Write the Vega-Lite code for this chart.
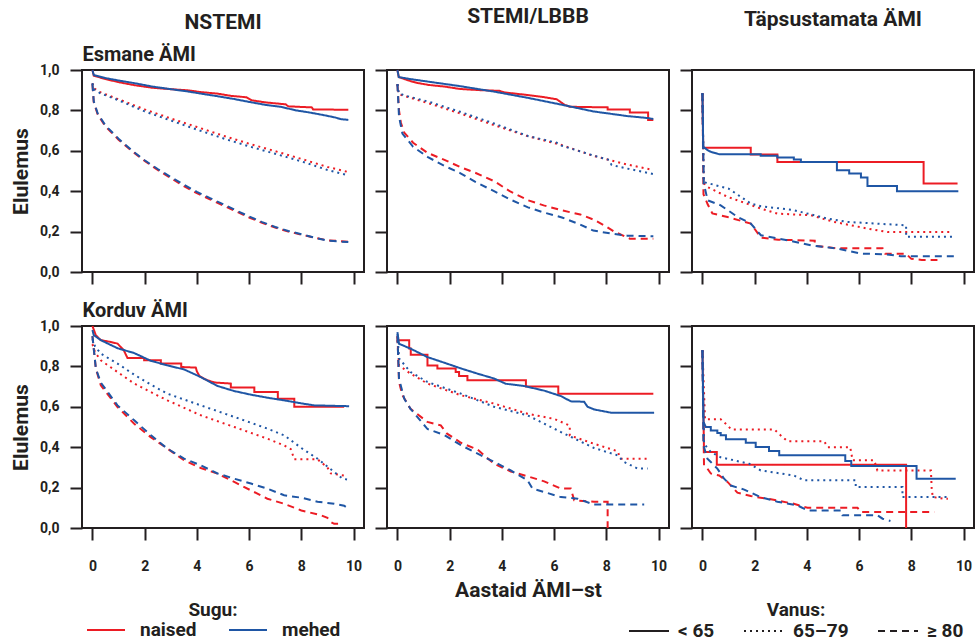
{
"$schema": "https://vega.github.io/schema/vega-lite/v6.json",
"background": "white",
"padding": {"left": 9, "top": 5, "right": 2, "bottom": 2},
"datasets": {
"EN": [
{"sugu":"naised","vanus":"< 65","t":0,"s":1},{"sugu":"naised","vanus":"< 65","t":0.05,"s":0.972},{"sugu":"naised","vanus":"< 65","t":0.5,"s":0.955},{"sugu":"naised","vanus":"< 65","t":1,"s":0.94},{"sugu":"naised","vanus":"< 65","t":1.6,"s":0.925},{"sugu":"naised","vanus":"< 65","t":2.3,"s":0.912},{"sugu":"naised","vanus":"< 65","t":3,"s":0.905},{"sugu":"naised","vanus":"< 65","t":3.6,"s":0.9},{"sugu":"naised","vanus":"< 65","t":4.2,"s":0.89},{"sugu":"naised","vanus":"< 65","t":4.8,"s":0.883},{"sugu":"naised","vanus":"< 65","t":5.3,"s":0.872},{"sugu":"naised","vanus":"< 65","t":5.9,"s":0.865},{"sugu":"naised","vanus":"< 65","t":6.1,"s":0.85},{"sugu":"naised","vanus":"< 65","t":6.6,"s":0.84},{"sugu":"naised","vanus":"< 65","t":7.4,"s":0.83},{"sugu":"naised","vanus":"< 65","t":7.5,"s":0.82},{"sugu":"naised","vanus":"< 65","t":8.4,"s":0.815},{"sugu":"naised","vanus":"< 65","t":8.45,"s":0.805},{"sugu":"naised","vanus":"< 65","t":9.8,"s":0.803},
{"sugu":"mehed","vanus":"< 65","t":0,"s":1},{"sugu":"mehed","vanus":"< 65","t":0.05,"s":0.975},{"sugu":"mehed","vanus":"< 65","t":0.5,"s":0.96},{"sugu":"mehed","vanus":"< 65","t":1,"s":0.948},{"sugu":"mehed","vanus":"< 65","t":1.6,"s":0.935},{"sugu":"mehed","vanus":"< 65","t":2.3,"s":0.918},{"sugu":"mehed","vanus":"< 65","t":3,"s":0.905},{"sugu":"mehed","vanus":"< 65","t":3.6,"s":0.895},{"sugu":"mehed","vanus":"< 65","t":4.2,"s":0.882},{"sugu":"mehed","vanus":"< 65","t":4.8,"s":0.87},{"sugu":"mehed","vanus":"< 65","t":5.4,"s":0.857},{"sugu":"mehed","vanus":"< 65","t":6,"s":0.842},{"sugu":"mehed","vanus":"< 65","t":6.6,"s":0.828},{"sugu":"mehed","vanus":"< 65","t":7.2,"s":0.818},{"sugu":"mehed","vanus":"< 65","t":7.8,"s":0.8},{"sugu":"mehed","vanus":"< 65","t":8.3,"s":0.79},{"sugu":"mehed","vanus":"< 65","t":8.8,"s":0.778},{"sugu":"mehed","vanus":"< 65","t":9.3,"s":0.765},{"sugu":"mehed","vanus":"< 65","t":9.5,"s":0.757},{"sugu":"mehed","vanus":"< 65","t":9.8,"s":0.753},
{"sugu":"naised","vanus":"65–79","t":0,"s":0.935},{"sugu":"naised","vanus":"65–79","t":0.05,"s":0.91},{"sugu":"naised","vanus":"65–79","t":0.3,"s":0.89},{"sugu":"naised","vanus":"65–79","t":1,"s":0.855},{"sugu":"naised","vanus":"65–79","t":2,"s":0.805},{"sugu":"naised","vanus":"65–79","t":3,"s":0.76},{"sugu":"naised","vanus":"65–79","t":4,"s":0.718},{"sugu":"naised","vanus":"65–79","t":5,"s":0.675},{"sugu":"naised","vanus":"65–79","t":6,"s":0.635},{"sugu":"naised","vanus":"65–79","t":7,"s":0.598},{"sugu":"naised","vanus":"65–79","t":8,"s":0.56},{"sugu":"naised","vanus":"65–79","t":9,"s":0.52},{"sugu":"naised","vanus":"65–79","t":9.8,"s":0.495},
{"sugu":"mehed","vanus":"65–79","t":0,"s":0.935},{"sugu":"mehed","vanus":"65–79","t":0.05,"s":0.905},{"sugu":"mehed","vanus":"65–79","t":0.3,"s":0.885},{"sugu":"mehed","vanus":"65–79","t":1,"s":0.85},{"sugu":"mehed","vanus":"65–79","t":2,"s":0.795},{"sugu":"mehed","vanus":"65–79","t":3,"s":0.75},{"sugu":"mehed","vanus":"65–79","t":4,"s":0.705},{"sugu":"mehed","vanus":"65–79","t":5,"s":0.662},{"sugu":"mehed","vanus":"65–79","t":6,"s":0.622},{"sugu":"mehed","vanus":"65–79","t":7,"s":0.585},{"sugu":"mehed","vanus":"65–79","t":8,"s":0.548},{"sugu":"mehed","vanus":"65–79","t":9,"s":0.505},{"sugu":"mehed","vanus":"65–79","t":9.8,"s":0.478},
{"sugu":"naised","vanus":"≥ 80","t":0,"s":0.93},{"sugu":"naised","vanus":"≥ 80","t":0.05,"s":0.84},{"sugu":"naised","vanus":"≥ 80","t":0.2,"s":0.78},{"sugu":"naised","vanus":"≥ 80","t":0.5,"s":0.72},{"sugu":"naised","vanus":"≥ 80","t":1,"s":0.655},{"sugu":"naised","vanus":"≥ 80","t":1.5,"s":0.6},{"sugu":"naised","vanus":"≥ 80","t":2,"s":0.55},{"sugu":"naised","vanus":"≥ 80","t":2.5,"s":0.505},{"sugu":"naised","vanus":"≥ 80","t":3,"s":0.465},{"sugu":"naised","vanus":"≥ 80","t":3.5,"s":0.425},{"sugu":"naised","vanus":"≥ 80","t":4,"s":0.39},{"sugu":"naised","vanus":"≥ 80","t":4.5,"s":0.36},{"sugu":"naised","vanus":"≥ 80","t":5,"s":0.33},{"sugu":"naised","vanus":"≥ 80","t":5.5,"s":0.3},{"sugu":"naised","vanus":"≥ 80","t":6,"s":0.27},{"sugu":"naised","vanus":"≥ 80","t":6.5,"s":0.243},{"sugu":"naised","vanus":"≥ 80","t":7,"s":0.22},{"sugu":"naised","vanus":"≥ 80","t":7.5,"s":0.2},{"sugu":"naised","vanus":"≥ 80","t":8,"s":0.185},{"sugu":"naised","vanus":"≥ 80","t":8.5,"s":0.17},{"sugu":"naised","vanus":"≥ 80","t":9,"s":0.157},{"sugu":"naised","vanus":"≥ 80","t":9.8,"s":0.15},
{"sugu":"mehed","vanus":"≥ 80","t":0,"s":0.93},{"sugu":"mehed","vanus":"≥ 80","t":0.05,"s":0.845},{"sugu":"mehed","vanus":"≥ 80","t":0.2,"s":0.785},{"sugu":"mehed","vanus":"≥ 80","t":0.5,"s":0.725},{"sugu":"mehed","vanus":"≥ 80","t":1,"s":0.66},{"sugu":"mehed","vanus":"≥ 80","t":1.5,"s":0.603},{"sugu":"mehed","vanus":"≥ 80","t":2,"s":0.553},{"sugu":"mehed","vanus":"≥ 80","t":2.5,"s":0.51},{"sugu":"mehed","vanus":"≥ 80","t":3,"s":0.47},{"sugu":"mehed","vanus":"≥ 80","t":3.5,"s":0.432},{"sugu":"mehed","vanus":"≥ 80","t":4,"s":0.397},{"sugu":"mehed","vanus":"≥ 80","t":4.5,"s":0.366},{"sugu":"mehed","vanus":"≥ 80","t":5,"s":0.336},{"sugu":"mehed","vanus":"≥ 80","t":5.5,"s":0.305},{"sugu":"mehed","vanus":"≥ 80","t":6,"s":0.275},{"sugu":"mehed","vanus":"≥ 80","t":6.5,"s":0.247},{"sugu":"mehed","vanus":"≥ 80","t":7,"s":0.223},{"sugu":"mehed","vanus":"≥ 80","t":7.5,"s":0.203},{"sugu":"mehed","vanus":"≥ 80","t":8,"s":0.187},{"sugu":"mehed","vanus":"≥ 80","t":8.5,"s":0.17},{"sugu":"mehed","vanus":"≥ 80","t":9,"s":0.155},{"sugu":"mehed","vanus":"≥ 80","t":9.8,"s":0.148}
],
"ES": [
{"sugu":"naised","vanus":"< 65","t":0,"s":1},{"sugu":"naised","vanus":"< 65","t":0.05,"s":0.965},{"sugu":"naised","vanus":"< 65","t":0.5,"s":0.945},{"sugu":"naised","vanus":"< 65","t":0.8,"s":0.935},{"sugu":"naised","vanus":"< 65","t":1.2,"s":0.926},{"sugu":"naised","vanus":"< 65","t":1.8,"s":0.918},{"sugu":"naised","vanus":"< 65","t":2.4,"s":0.906},{"sugu":"naised","vanus":"< 65","t":3.2,"s":0.9},{"sugu":"naised","vanus":"< 65","t":3.9,"s":0.897},{"sugu":"naised","vanus":"< 65","t":4.1,"s":0.889},{"sugu":"naised","vanus":"< 65","t":5,"s":0.876},{"sugu":"naised","vanus":"< 65","t":5.6,"s":0.866},{"sugu":"naised","vanus":"< 65","t":6.1,"s":0.855},{"sugu":"naised","vanus":"< 65","t":6.4,"s":0.828},{"sugu":"naised","vanus":"< 65","t":6.6,"s":0.818},{"sugu":"naised","vanus":"< 65","t":8.05,"s":0.815},{"sugu":"naised","vanus":"< 65","t":8.05,"s":0.805},{"sugu":"naised","vanus":"< 65","t":8.9,"s":0.805},{"sugu":"naised","vanus":"< 65","t":8.9,"s":0.79},{"sugu":"naised","vanus":"< 65","t":9.6,"s":0.79},{"sugu":"naised","vanus":"< 65","t":9.6,"s":0.752},{"sugu":"naised","vanus":"< 65","t":9.8,"s":0.752},
{"sugu":"mehed","vanus":"< 65","t":0,"s":1},{"sugu":"mehed","vanus":"< 65","t":0.05,"s":0.965},{"sugu":"mehed","vanus":"< 65","t":0.5,"s":0.955},{"sugu":"mehed","vanus":"< 65","t":1.2,"s":0.942},{"sugu":"mehed","vanus":"< 65","t":2.4,"s":0.92},{"sugu":"mehed","vanus":"< 65","t":3.7,"s":0.893},{"sugu":"mehed","vanus":"< 65","t":5,"s":0.862},{"sugu":"mehed","vanus":"< 65","t":6.3,"s":0.828},{"sugu":"mehed","vanus":"< 65","t":7.5,"s":0.795},{"sugu":"mehed","vanus":"< 65","t":8.8,"s":0.772},{"sugu":"mehed","vanus":"< 65","t":9.6,"s":0.762},{"sugu":"mehed","vanus":"< 65","t":9.8,"s":0.757},
{"sugu":"naised","vanus":"65–79","t":0,"s":0.93},{"sugu":"naised","vanus":"65–79","t":0.05,"s":0.88},{"sugu":"naised","vanus":"65–79","t":0.3,"s":0.87},{"sugu":"naised","vanus":"65–79","t":1.2,"s":0.835},{"sugu":"naised","vanus":"65–79","t":2.4,"s":0.785},{"sugu":"naised","vanus":"65–79","t":3.7,"s":0.727},{"sugu":"naised","vanus":"65–79","t":5,"s":0.672},{"sugu":"naised","vanus":"65–79","t":6.3,"s":0.628},{"sugu":"naised","vanus":"65–79","t":7.5,"s":0.575},{"sugu":"naised","vanus":"65–79","t":8.8,"s":0.532},{"sugu":"naised","vanus":"65–79","t":9.8,"s":0.505},
{"sugu":"mehed","vanus":"65–79","t":0,"s":0.93},{"sugu":"mehed","vanus":"65–79","t":0.05,"s":0.885},{"sugu":"mehed","vanus":"65–79","t":0.3,"s":0.873},{"sugu":"mehed","vanus":"65–79","t":1.2,"s":0.843},{"sugu":"mehed","vanus":"65–79","t":2.4,"s":0.793},{"sugu":"mehed","vanus":"65–79","t":3.7,"s":0.735},{"sugu":"mehed","vanus":"65–79","t":5,"s":0.673},{"sugu":"mehed","vanus":"65–79","t":6.1,"s":0.64},{"sugu":"mehed","vanus":"65–79","t":6.3,"s":0.625},{"sugu":"mehed","vanus":"65–79","t":7.5,"s":0.577},{"sugu":"mehed","vanus":"65–79","t":8.1,"s":0.555},{"sugu":"mehed","vanus":"65–79","t":8.2,"s":0.53},{"sugu":"mehed","vanus":"65–79","t":8.8,"s":0.512},{"sugu":"mehed","vanus":"65–79","t":9.8,"s":0.485},
{"sugu":"naised","vanus":"≥ 80","t":0,"s":0.93},{"sugu":"naised","vanus":"≥ 80","t":0.06,"s":0.8},{"sugu":"naised","vanus":"≥ 80","t":0.13,"s":0.74},{"sugu":"naised","vanus":"≥ 80","t":0.26,"s":0.69},{"sugu":"naised","vanus":"≥ 80","t":0.6,"s":0.64},{"sugu":"naised","vanus":"≥ 80","t":1.15,"s":0.59},{"sugu":"naised","vanus":"≥ 80","t":1.8,"s":0.555},{"sugu":"naised","vanus":"≥ 80","t":2.4,"s":0.52},{"sugu":"naised","vanus":"≥ 80","t":3,"s":0.49},{"sugu":"naised","vanus":"≥ 80","t":3.7,"s":0.45},{"sugu":"naised","vanus":"≥ 80","t":4.3,"s":0.4},{"sugu":"naised","vanus":"≥ 80","t":5,"s":0.355},{"sugu":"naised","vanus":"≥ 80","t":5.6,"s":0.33},{"sugu":"naised","vanus":"≥ 80","t":6.3,"s":0.305},{"sugu":"naised","vanus":"≥ 80","t":7,"s":0.285},{"sugu":"naised","vanus":"≥ 80","t":7.5,"s":0.26},{"sugu":"naised","vanus":"≥ 80","t":8,"s":0.225},{"sugu":"naised","vanus":"≥ 80","t":8.3,"s":0.2},{"sugu":"naised","vanus":"≥ 80","t":8.9,"s":0.165},{"sugu":"naised","vanus":"≥ 80","t":9.8,"s":0.165},
{"sugu":"mehed","vanus":"≥ 80","t":0,"s":0.93},{"sugu":"mehed","vanus":"≥ 80","t":0.06,"s":0.77},{"sugu":"mehed","vanus":"≥ 80","t":0.19,"s":0.685},{"sugu":"mehed","vanus":"≥ 80","t":0.6,"s":0.62},{"sugu":"mehed","vanus":"≥ 80","t":1.15,"s":0.57},{"sugu":"mehed","vanus":"≥ 80","t":1.8,"s":0.525},{"sugu":"mehed","vanus":"≥ 80","t":2.4,"s":0.49},{"sugu":"mehed","vanus":"≥ 80","t":3,"s":0.445},{"sugu":"mehed","vanus":"≥ 80","t":3.7,"s":0.4},{"sugu":"mehed","vanus":"≥ 80","t":4.3,"s":0.36},{"sugu":"mehed","vanus":"≥ 80","t":5,"s":0.32},{"sugu":"mehed","vanus":"≥ 80","t":5.6,"s":0.295},{"sugu":"mehed","vanus":"≥ 80","t":6.3,"s":0.27},{"sugu":"mehed","vanus":"≥ 80","t":7,"s":0.235},{"sugu":"mehed","vanus":"≥ 80","t":7.5,"s":0.205},{"sugu":"mehed","vanus":"≥ 80","t":8.2,"s":0.19},{"sugu":"mehed","vanus":"≥ 80","t":8.8,"s":0.18},{"sugu":"mehed","vanus":"≥ 80","t":9.8,"s":0.177}
],
"ET": [
{"sugu":"naised","vanus":"< 65","t":0,"s":0.885},{"sugu":"naised","vanus":"< 65","t":0.03,"s":0.615},{"sugu":"naised","vanus":"< 65","t":1.85,"s":0.615},{"sugu":"naised","vanus":"< 65","t":1.85,"s":0.582},{"sugu":"naised","vanus":"< 65","t":2.87,"s":0.582},{"sugu":"naised","vanus":"< 65","t":2.87,"s":0.545},{"sugu":"naised","vanus":"< 65","t":8.47,"s":0.545},{"sugu":"naised","vanus":"< 65","t":8.47,"s":0.438},{"sugu":"naised","vanus":"< 65","t":9.77,"s":0.438},
{"sugu":"mehed","vanus":"< 65","t":0,"s":0.885},{"sugu":"mehed","vanus":"< 65","t":0.03,"s":0.62},{"sugu":"mehed","vanus":"< 65","t":0.2,"s":0.603},{"sugu":"mehed","vanus":"< 65","t":0.32,"s":0.595},{"sugu":"mehed","vanus":"< 65","t":0.64,"s":0.583},{"sugu":"mehed","vanus":"< 65","t":2.23,"s":0.583},{"sugu":"mehed","vanus":"< 65","t":2.23,"s":0.575},{"sugu":"mehed","vanus":"< 65","t":2.87,"s":0.575},{"sugu":"mehed","vanus":"< 65","t":2.87,"s":0.567},{"sugu":"mehed","vanus":"< 65","t":3.5,"s":0.567},{"sugu":"mehed","vanus":"< 65","t":3.5,"s":0.557},{"sugu":"mehed","vanus":"< 65","t":3.77,"s":0.557},{"sugu":"mehed","vanus":"< 65","t":3.77,"s":0.545},{"sugu":"mehed","vanus":"< 65","t":5.15,"s":0.545},{"sugu":"mehed","vanus":"< 65","t":5.15,"s":0.504},{"sugu":"mehed","vanus":"< 65","t":5.62,"s":0.504},{"sugu":"mehed","vanus":"< 65","t":5.62,"s":0.488},{"sugu":"mehed","vanus":"< 65","t":6.07,"s":0.488},{"sugu":"mehed","vanus":"< 65","t":6.07,"s":0.468},{"sugu":"mehed","vanus":"< 65","t":6.32,"s":0.468},{"sugu":"mehed","vanus":"< 65","t":6.32,"s":0.426},{"sugu":"mehed","vanus":"< 65","t":7.45,"s":0.426},{"sugu":"mehed","vanus":"< 65","t":7.45,"s":0.4},{"sugu":"mehed","vanus":"< 65","t":9.8,"s":0.4},
{"sugu":"naised","vanus":"65–79","t":0,"s":0.885},{"sugu":"naised","vanus":"65–79","t":0.05,"s":0.44},{"sugu":"naised","vanus":"65–79","t":0.19,"s":0.421},{"sugu":"naised","vanus":"65–79","t":0.96,"s":0.372},{"sugu":"naised","vanus":"65–79","t":2.24,"s":0.314},{"sugu":"naised","vanus":"65–79","t":2.87,"s":0.289},{"sugu":"naised","vanus":"65–79","t":4.15,"s":0.281},{"sugu":"naised","vanus":"65–79","t":5.04,"s":0.248},{"sugu":"naised","vanus":"65–79","t":6.32,"s":0.215},{"sugu":"naised","vanus":"65–79","t":7.1,"s":0.198},{"sugu":"naised","vanus":"65–79","t":9.58,"s":0.198},
{"sugu":"mehed","vanus":"65–79","t":0,"s":0.885},{"sugu":"mehed","vanus":"65–79","t":0.05,"s":0.445},{"sugu":"mehed","vanus":"65–79","t":0.2,"s":0.44},{"sugu":"mehed","vanus":"65–79","t":1,"s":0.413},{"sugu":"mehed","vanus":"65–79","t":1.85,"s":0.339},{"sugu":"mehed","vanus":"65–79","t":2.24,"s":0.326},{"sugu":"mehed","vanus":"65–79","t":3.5,"s":0.306},{"sugu":"mehed","vanus":"65–79","t":4.8,"s":0.264},{"sugu":"mehed","vanus":"65–79","t":5.55,"s":0.248},{"sugu":"mehed","vanus":"65–79","t":7.8,"s":0.231},{"sugu":"mehed","vanus":"65–79","t":7.8,"s":0.174},{"sugu":"mehed","vanus":"65–79","t":9.58,"s":0.174},
{"sugu":"naised","vanus":"≥ 80","t":0,"s":0.885},{"sugu":"naised","vanus":"≥ 80","t":0.04,"s":0.385},{"sugu":"naised","vanus":"≥ 80","t":0.2,"s":0.335},{"sugu":"naised","vanus":"≥ 80","t":0.38,"s":0.29},{"sugu":"naised","vanus":"≥ 80","t":0.96,"s":0.272},{"sugu":"naised","vanus":"≥ 80","t":1.85,"s":0.24},{"sugu":"naised","vanus":"≥ 80","t":2.24,"s":0.17},{"sugu":"naised","vanus":"≥ 80","t":2.9,"s":0.16},{"sugu":"naised","vanus":"≥ 80","t":4.3,"s":0.155},{"sugu":"naised","vanus":"≥ 80","t":4.3,"s":0.13},{"sugu":"naised","vanus":"≥ 80","t":5.1,"s":0.118},{"sugu":"naised","vanus":"≥ 80","t":6.9,"s":0.118},{"sugu":"naised","vanus":"≥ 80","t":7,"s":0.09},{"sugu":"naised","vanus":"≥ 80","t":7.8,"s":0.09},{"sugu":"naised","vanus":"≥ 80","t":8,"s":0.065},{"sugu":"naised","vanus":"≥ 80","t":8.4,"s":0.06},{"sugu":"naised","vanus":"≥ 80","t":9,"s":0.06},
{"sugu":"mehed","vanus":"≥ 80","t":0,"s":0.885},{"sugu":"mehed","vanus":"≥ 80","t":0.05,"s":0.438},{"sugu":"mehed","vanus":"≥ 80","t":0.2,"s":0.355},{"sugu":"mehed","vanus":"≥ 80","t":0.7,"s":0.33},{"sugu":"mehed","vanus":"≥ 80","t":1.34,"s":0.273},{"sugu":"mehed","vanus":"≥ 80","t":1.85,"s":0.24},{"sugu":"mehed","vanus":"≥ 80","t":2.24,"s":0.182},{"sugu":"mehed","vanus":"≥ 80","t":3.26,"s":0.157},{"sugu":"mehed","vanus":"≥ 80","t":4.15,"s":0.132},{"sugu":"mehed","vanus":"≥ 80","t":5.17,"s":0.116},{"sugu":"mehed","vanus":"≥ 80","t":6.07,"s":0.091},{"sugu":"mehed","vanus":"≥ 80","t":7,"s":0.088},{"sugu":"mehed","vanus":"≥ 80","t":7.6,"s":0.078},{"sugu":"mehed","vanus":"≥ 80","t":9.8,"s":0.078}
],
"KN": [
{"sugu":"naised","vanus":"< 65","t":0,"s":1},{"sugu":"naised","vanus":"< 65","t":0.13,"s":0.954},{"sugu":"naised","vanus":"< 65","t":0.32,"s":0.93},{"sugu":"naised","vanus":"< 65","t":0.7,"s":0.921},{"sugu":"naised","vanus":"< 65","t":0.96,"s":0.913},{"sugu":"naised","vanus":"< 65","t":1.2,"s":0.88},{"sugu":"naised","vanus":"< 65","t":1.34,"s":0.842},{"sugu":"naised","vanus":"< 65","t":1.98,"s":0.842},{"sugu":"naised","vanus":"< 65","t":1.98,"s":0.83},{"sugu":"naised","vanus":"< 65","t":2.62,"s":0.83},{"sugu":"naised","vanus":"< 65","t":2.62,"s":0.814},{"sugu":"naised","vanus":"< 65","t":3.4,"s":0.814},{"sugu":"naised","vanus":"< 65","t":3.4,"s":0.797},{"sugu":"naised","vanus":"< 65","t":3.96,"s":0.794},{"sugu":"naised","vanus":"< 65","t":4,"s":0.775},{"sugu":"naised","vanus":"< 65","t":4.1,"s":0.752},{"sugu":"naised","vanus":"< 65","t":4.4,"s":0.731},{"sugu":"naised","vanus":"< 65","t":4.7,"s":0.72},{"sugu":"naised","vanus":"< 65","t":5.3,"s":0.715},{"sugu":"naised","vanus":"< 65","t":5.3,"s":0.695},{"sugu":"naised","vanus":"< 65","t":6.2,"s":0.695},{"sugu":"naised","vanus":"< 65","t":6.2,"s":0.673},{"sugu":"naised","vanus":"< 65","t":7.1,"s":0.673},{"sugu":"naised","vanus":"< 65","t":7.1,"s":0.64},{"sugu":"naised","vanus":"< 65","t":7.73,"s":0.64},{"sugu":"naised","vanus":"< 65","t":7.73,"s":0.6},{"sugu":"naised","vanus":"< 65","t":9.64,"s":0.6},
{"sugu":"mehed","vanus":"< 65","t":0,"s":0.98},{"sugu":"mehed","vanus":"< 65","t":0.05,"s":0.955},{"sugu":"mehed","vanus":"< 65","t":0.32,"s":0.93},{"sugu":"mehed","vanus":"< 65","t":0.96,"s":0.89},{"sugu":"mehed","vanus":"< 65","t":1.6,"s":0.866},{"sugu":"mehed","vanus":"< 65","t":2.23,"s":0.828},{"sugu":"mehed","vanus":"< 65","t":2.87,"s":0.805},{"sugu":"mehed","vanus":"< 65","t":3.51,"s":0.785},{"sugu":"mehed","vanus":"< 65","t":4.15,"s":0.747},{"sugu":"mehed","vanus":"< 65","t":4.79,"s":0.703},{"sugu":"mehed","vanus":"< 65","t":5.43,"s":0.678},{"sugu":"mehed","vanus":"< 65","t":6.07,"s":0.66},{"sugu":"mehed","vanus":"< 65","t":6.7,"s":0.645},{"sugu":"mehed","vanus":"< 65","t":7.34,"s":0.632},{"sugu":"mehed","vanus":"< 65","t":8,"s":0.617},{"sugu":"mehed","vanus":"< 65","t":8.5,"s":0.607},{"sugu":"mehed","vanus":"< 65","t":9.83,"s":0.603},
{"sugu":"naised","vanus":"65–79","t":0,"s":0.91},{"sugu":"naised","vanus":"65–79","t":0.1,"s":0.87},{"sugu":"naised","vanus":"65–79","t":0.32,"s":0.83},{"sugu":"naised","vanus":"65–79","t":0.96,"s":0.772},{"sugu":"naised","vanus":"65–79","t":1.6,"s":0.715},{"sugu":"naised","vanus":"65–79","t":2.23,"s":0.673},{"sugu":"naised","vanus":"65–79","t":2.87,"s":0.632},{"sugu":"naised","vanus":"65–79","t":4.15,"s":0.558},{"sugu":"naised","vanus":"65–79","t":5.43,"s":0.5},{"sugu":"naised","vanus":"65–79","t":6.7,"s":0.442},{"sugu":"naised","vanus":"65–79","t":7.34,"s":0.409},{"sugu":"naised","vanus":"65–79","t":7.6,"s":0.39},{"sugu":"naised","vanus":"65–79","t":7.73,"s":0.34},{"sugu":"naised","vanus":"65–79","t":8.62,"s":0.34},{"sugu":"naised","vanus":"65–79","t":9,"s":0.3},{"sugu":"naised","vanus":"65–79","t":9.13,"s":0.27},{"sugu":"naised","vanus":"65–79","t":9.77,"s":0.257},
{"sugu":"mehed","vanus":"65–79","t":0,"s":0.935},{"sugu":"mehed","vanus":"65–79","t":0.1,"s":0.9},{"sugu":"mehed","vanus":"65–79","t":0.32,"s":0.863},{"sugu":"mehed","vanus":"65–79","t":0.96,"s":0.814},{"sugu":"mehed","vanus":"65–79","t":1.6,"s":0.759},{"sugu":"mehed","vanus":"65–79","t":2.23,"s":0.71},{"sugu":"mehed","vanus":"65–79","t":2.87,"s":0.665},{"sugu":"mehed","vanus":"65–79","t":4.15,"s":0.607},{"sugu":"mehed","vanus":"65–79","t":5.43,"s":0.55},{"sugu":"mehed","vanus":"65–79","t":6.7,"s":0.492},{"sugu":"mehed","vanus":"65–79","t":7.34,"s":0.459},{"sugu":"mehed","vanus":"65–79","t":8,"s":0.396},{"sugu":"mehed","vanus":"65–79","t":8.62,"s":0.343},{"sugu":"mehed","vanus":"65–79","t":9.26,"s":0.277},{"sugu":"mehed","vanus":"65–79","t":9.58,"s":0.244},{"sugu":"mehed","vanus":"65–79","t":9.77,"s":0.24},
{"sugu":"naised","vanus":"≥ 80","t":0,"s":0.95},{"sugu":"naised","vanus":"≥ 80","t":0.13,"s":0.789},{"sugu":"naised","vanus":"≥ 80","t":0.32,"s":0.706},{"sugu":"naised","vanus":"≥ 80","t":0.96,"s":0.599},{"sugu":"naised","vanus":"≥ 80","t":1.6,"s":0.516},{"sugu":"naised","vanus":"≥ 80","t":2.23,"s":0.45},{"sugu":"naised","vanus":"≥ 80","t":2.87,"s":0.393},{"sugu":"naised","vanus":"≥ 80","t":3.51,"s":0.335},{"sugu":"naised","vanus":"≥ 80","t":4.15,"s":0.297},{"sugu":"naised","vanus":"≥ 80","t":4.79,"s":0.269},{"sugu":"naised","vanus":"≥ 80","t":5.43,"s":0.228},{"sugu":"naised","vanus":"≥ 80","t":6.07,"s":0.186},{"sugu":"naised","vanus":"≥ 80","t":6.7,"s":0.145},{"sugu":"naised","vanus":"≥ 80","t":7.34,"s":0.12},{"sugu":"naised","vanus":"≥ 80","t":8,"s":0.087},{"sugu":"naised","vanus":"≥ 80","t":8.75,"s":0.063},{"sugu":"naised","vanus":"≥ 80","t":9,"s":0.05},{"sugu":"naised","vanus":"≥ 80","t":9.13,"s":0.03},{"sugu":"naised","vanus":"≥ 80","t":9.26,"s":0.021},{"sugu":"naised","vanus":"≥ 80","t":9.5,"s":0.021},
{"sugu":"mehed","vanus":"≥ 80","t":0,"s":0.95},{"sugu":"mehed","vanus":"≥ 80","t":0.13,"s":0.79},{"sugu":"mehed","vanus":"≥ 80","t":0.32,"s":0.72},{"sugu":"mehed","vanus":"≥ 80","t":0.96,"s":0.607},{"sugu":"mehed","vanus":"≥ 80","t":1.6,"s":0.533},{"sugu":"mehed","vanus":"≥ 80","t":2.23,"s":0.46},{"sugu":"mehed","vanus":"≥ 80","t":2.87,"s":0.393},{"sugu":"mehed","vanus":"≥ 80","t":3.51,"s":0.343},{"sugu":"mehed","vanus":"≥ 80","t":4.15,"s":0.31},{"sugu":"mehed","vanus":"≥ 80","t":4.79,"s":0.27},{"sugu":"mehed","vanus":"≥ 80","t":5.43,"s":0.244},{"sugu":"mehed","vanus":"≥ 80","t":6.07,"s":0.22},{"sugu":"mehed","vanus":"≥ 80","t":6.7,"s":0.195},{"sugu":"mehed","vanus":"≥ 80","t":7.34,"s":0.162},{"sugu":"mehed","vanus":"≥ 80","t":8,"s":0.15},{"sugu":"mehed","vanus":"≥ 80","t":8.62,"s":0.13},{"sugu":"mehed","vanus":"≥ 80","t":9.26,"s":0.12},{"sugu":"mehed","vanus":"≥ 80","t":9.64,"s":0.11},{"sugu":"mehed","vanus":"≥ 80","t":9.83,"s":0.093}
],
"KS": [
{"sugu":"naised","vanus":"< 65","t":0,"s":0.95},{"sugu":"naised","vanus":"< 65","t":0.02,"s":0.929},{"sugu":"naised","vanus":"< 65","t":0.45,"s":0.929},{"sugu":"naised","vanus":"< 65","t":0.45,"s":0.888},{"sugu":"naised","vanus":"< 65","t":0.51,"s":0.888},{"sugu":"naised","vanus":"< 65","t":0.51,"s":0.858},{"sugu":"naised","vanus":"< 65","t":1.15,"s":0.858},{"sugu":"naised","vanus":"< 65","t":1.15,"s":0.805},{"sugu":"naised","vanus":"< 65","t":1.53,"s":0.805},{"sugu":"naised","vanus":"< 65","t":1.53,"s":0.789},{"sugu":"naised","vanus":"< 65","t":2.23,"s":0.789},{"sugu":"naised","vanus":"< 65","t":2.23,"s":0.772},{"sugu":"naised","vanus":"< 65","t":2.36,"s":0.772},{"sugu":"naised","vanus":"< 65","t":2.36,"s":0.752},{"sugu":"naised","vanus":"< 65","t":2.68,"s":0.752},{"sugu":"naised","vanus":"< 65","t":2.68,"s":0.731},{"sugu":"naised","vanus":"< 65","t":4.92,"s":0.731},{"sugu":"naised","vanus":"< 65","t":4.92,"s":0.701},{"sugu":"naised","vanus":"< 65","t":6.16,"s":0.701},{"sugu":"naised","vanus":"< 65","t":6.16,"s":0.665},{"sugu":"naised","vanus":"< 65","t":9.8,"s":0.665},
{"sugu":"mehed","vanus":"< 65","t":0,"s":0.97},{"sugu":"mehed","vanus":"< 65","t":0.06,"s":0.912},{"sugu":"mehed","vanus":"< 65","t":0.5,"s":0.888},{"sugu":"mehed","vanus":"< 65","t":1.15,"s":0.846},{"sugu":"mehed","vanus":"< 65","t":1.8,"s":0.818},{"sugu":"mehed","vanus":"< 65","t":2.43,"s":0.79},{"sugu":"mehed","vanus":"< 65","t":3.07,"s":0.764},{"sugu":"mehed","vanus":"< 65","t":3.7,"s":0.74},{"sugu":"mehed","vanus":"< 65","t":4.15,"s":0.714},{"sugu":"mehed","vanus":"< 65","t":4.85,"s":0.703},{"sugu":"mehed","vanus":"< 65","t":5.62,"s":0.68},{"sugu":"mehed","vanus":"< 65","t":6.26,"s":0.653},{"sugu":"mehed","vanus":"< 65","t":6.64,"s":0.627},{"sugu":"mehed","vanus":"< 65","t":7.15,"s":0.625},{"sugu":"mehed","vanus":"< 65","t":7.28,"s":0.6},{"sugu":"mehed","vanus":"< 65","t":7.53,"s":0.587},{"sugu":"mehed","vanus":"< 65","t":8.17,"s":0.571},{"sugu":"mehed","vanus":"< 65","t":9.83,"s":0.571},
{"sugu":"naised","vanus":"65–79","t":0,"s":0.93},{"sugu":"naised","vanus":"65–79","t":0.06,"s":0.805},{"sugu":"naised","vanus":"65–79","t":0.5,"s":0.764},{"sugu":"naised","vanus":"65–79","t":1.15,"s":0.715},{"sugu":"naised","vanus":"65–79","t":2.43,"s":0.657},{"sugu":"naised","vanus":"65–79","t":3.7,"s":0.616},{"sugu":"naised","vanus":"65–79","t":4.98,"s":0.566},{"sugu":"naised","vanus":"65–79","t":6,"s":0.54},{"sugu":"naised","vanus":"65–79","t":6.6,"s":0.507},{"sugu":"naised","vanus":"65–79","t":6.6,"s":0.458},{"sugu":"naised","vanus":"65–79","t":7.53,"s":0.417},{"sugu":"naised","vanus":"65–79","t":8.43,"s":0.38},{"sugu":"naised","vanus":"65–79","t":8.55,"s":0.343},{"sugu":"naised","vanus":"65–79","t":9.58,"s":0.343},
{"sugu":"mehed","vanus":"65–79","t":0,"s":0.96},{"sugu":"mehed","vanus":"65–79","t":0.06,"s":0.84},{"sugu":"mehed","vanus":"65–79","t":0.5,"s":0.772},{"sugu":"mehed","vanus":"65–79","t":1.15,"s":0.723},{"sugu":"mehed","vanus":"65–79","t":2.43,"s":0.665},{"sugu":"mehed","vanus":"65–79","t":3.7,"s":0.6},{"sugu":"mehed","vanus":"65–79","t":4.98,"s":0.558},{"sugu":"mehed","vanus":"65–79","t":6.26,"s":0.475},{"sugu":"mehed","vanus":"65–79","t":7.53,"s":0.396},{"sugu":"mehed","vanus":"65–79","t":8.43,"s":0.36},{"sugu":"mehed","vanus":"65–79","t":8.68,"s":0.327},{"sugu":"mehed","vanus":"65–79","t":9.2,"s":0.294},{"sugu":"mehed","vanus":"65–79","t":9.58,"s":0.294},
{"sugu":"naised","vanus":"≥ 80","t":0,"s":0.95},{"sugu":"naised","vanus":"≥ 80","t":0.06,"s":0.723},{"sugu":"naised","vanus":"≥ 80","t":0.19,"s":0.657},{"sugu":"naised","vanus":"≥ 80","t":0.5,"s":0.59},{"sugu":"naised","vanus":"≥ 80","t":1.15,"s":0.525},{"sugu":"naised","vanus":"≥ 80","t":1.66,"s":0.508},{"sugu":"naised","vanus":"≥ 80","t":1.9,"s":0.467},{"sugu":"naised","vanus":"≥ 80","t":2.43,"s":0.422},{"sugu":"naised","vanus":"≥ 80","t":3.07,"s":0.388},{"sugu":"naised","vanus":"≥ 80","t":3.7,"s":0.318},{"sugu":"naised","vanus":"≥ 80","t":4.34,"s":0.28},{"sugu":"naised","vanus":"≥ 80","t":4.98,"s":0.256},{"sugu":"naised","vanus":"≥ 80","t":5.62,"s":0.231},{"sugu":"naised","vanus":"≥ 80","t":6.26,"s":0.195},{"sugu":"naised","vanus":"≥ 80","t":6.64,"s":0.195},{"sugu":"naised","vanus":"≥ 80","t":6.77,"s":0.137},{"sugu":"naised","vanus":"≥ 80","t":7.53,"s":0.13},{"sugu":"naised","vanus":"≥ 80","t":8.05,"s":0.13},{"sugu":"naised","vanus":"≥ 80","t":8.05,"s":0},
{"sugu":"mehed","vanus":"≥ 80","t":0,"s":0.95},{"sugu":"mehed","vanus":"≥ 80","t":0.06,"s":0.74},{"sugu":"mehed","vanus":"≥ 80","t":0.26,"s":0.64},{"sugu":"mehed","vanus":"≥ 80","t":0.5,"s":0.59},{"sugu":"mehed","vanus":"≥ 80","t":1.15,"s":0.49},{"sugu":"mehed","vanus":"≥ 80","t":1.8,"s":0.46},{"sugu":"mehed","vanus":"≥ 80","t":2.43,"s":0.41},{"sugu":"mehed","vanus":"≥ 80","t":3.07,"s":0.368},{"sugu":"mehed","vanus":"≥ 80","t":3.7,"s":0.327},{"sugu":"mehed","vanus":"≥ 80","t":4.34,"s":0.285},{"sugu":"mehed","vanus":"≥ 80","t":4.98,"s":0.236},{"sugu":"mehed","vanus":"≥ 80","t":5.17,"s":0.195},{"sugu":"mehed","vanus":"≥ 80","t":5.62,"s":0.178},{"sugu":"mehed","vanus":"≥ 80","t":6.26,"s":0.153},{"sugu":"mehed","vanus":"≥ 80","t":6.9,"s":0.145},{"sugu":"mehed","vanus":"≥ 80","t":7.53,"s":0.116},{"sugu":"mehed","vanus":"≥ 80","t":9.45,"s":0.116}
],
"KT": [
{"sugu":"naised","vanus":"< 65","t":0,"s":0.88},{"sugu":"naised","vanus":"< 65","t":0.06,"s":0.376},{"sugu":"naised","vanus":"< 65","t":0.55,"s":0.376},{"sugu":"naised","vanus":"< 65","t":0.55,"s":0.313},{"sugu":"naised","vanus":"< 65","t":7.8,"s":0.313},{"sugu":"naised","vanus":"< 65","t":7.8,"s":0},
{"sugu":"mehed","vanus":"< 65","t":0,"s":0.88},{"sugu":"mehed","vanus":"< 65","t":0.04,"s":0.525},{"sugu":"mehed","vanus":"< 65","t":0.13,"s":0.5},{"sugu":"mehed","vanus":"< 65","t":0.32,"s":0.5},{"sugu":"mehed","vanus":"< 65","t":0.32,"s":0.483},{"sugu":"mehed","vanus":"< 65","t":0.57,"s":0.483},{"sugu":"mehed","vanus":"< 65","t":0.57,"s":0.47},{"sugu":"mehed","vanus":"< 65","t":0.7,"s":0.47},{"sugu":"mehed","vanus":"< 65","t":0.7,"s":0.459},{"sugu":"mehed","vanus":"< 65","t":0.9,"s":0.459},{"sugu":"mehed","vanus":"< 65","t":0.9,"s":0.439},{"sugu":"mehed","vanus":"< 65","t":1.66,"s":0.439},{"sugu":"mehed","vanus":"< 65","t":1.66,"s":0.422},{"sugu":"mehed","vanus":"< 65","t":2.04,"s":0.422},{"sugu":"mehed","vanus":"< 65","t":2.04,"s":0.401},{"sugu":"mehed","vanus":"< 65","t":2.55,"s":0.401},{"sugu":"mehed","vanus":"< 65","t":2.55,"s":0.381},{"sugu":"mehed","vanus":"< 65","t":2.94,"s":0.381},{"sugu":"mehed","vanus":"< 65","t":2.94,"s":0.36},{"sugu":"mehed","vanus":"< 65","t":5.47,"s":0.36},{"sugu":"mehed","vanus":"< 65","t":5.47,"s":0.332},{"sugu":"mehed","vanus":"< 65","t":5.7,"s":0.332},{"sugu":"mehed","vanus":"< 65","t":5.7,"s":0.307},{"sugu":"mehed","vanus":"< 65","t":8.2,"s":0.307},{"sugu":"mehed","vanus":"< 65","t":8.2,"s":0.244},{"sugu":"mehed","vanus":"< 65","t":9.7,"s":0.244},
{"sugu":"naised","vanus":"65–79","t":0,"s":0.88},{"sugu":"naised","vanus":"65–79","t":0.1,"s":0.538},{"sugu":"naised","vanus":"65–79","t":0.7,"s":0.538},{"sugu":"naised","vanus":"65–79","t":0.96,"s":0.508},{"sugu":"naised","vanus":"65–79","t":1.1,"s":0.488},{"sugu":"naised","vanus":"65–79","t":2.75,"s":0.488},{"sugu":"naised","vanus":"65–79","t":3,"s":0.458},{"sugu":"naised","vanus":"65–79","t":3.25,"s":0.43},{"sugu":"naised","vanus":"65–79","t":4.66,"s":0.43},{"sugu":"naised","vanus":"65–79","t":4.8,"s":0.4},{"sugu":"naised","vanus":"65–79","t":5.66,"s":0.4},{"sugu":"naised","vanus":"65–79","t":5.75,"s":0.335},{"sugu":"naised","vanus":"65–79","t":6.58,"s":0.335},{"sugu":"naised","vanus":"65–79","t":6.7,"s":0.285},{"sugu":"naised","vanus":"65–79","t":8.75,"s":0.285},{"sugu":"naised","vanus":"65–79","t":8.78,"s":0.195},{"sugu":"naised","vanus":"65–79","t":8.82,"s":0.153},{"sugu":"naised","vanus":"65–79","t":9.26,"s":0.145},{"sugu":"naised","vanus":"65–79","t":9.4,"s":0.145},
{"sugu":"mehed","vanus":"65–79","t":0,"s":0.88},{"sugu":"mehed","vanus":"65–79","t":0.06,"s":0.417},{"sugu":"mehed","vanus":"65–79","t":0.32,"s":0.376},{"sugu":"mehed","vanus":"65–79","t":0.7,"s":0.35},{"sugu":"mehed","vanus":"65–79","t":1.21,"s":0.335},{"sugu":"mehed","vanus":"65–79","t":1.79,"s":0.318},{"sugu":"mehed","vanus":"65–79","t":2.23,"s":0.285},{"sugu":"mehed","vanus":"65–79","t":3.5,"s":0.26},{"sugu":"mehed","vanus":"65–79","t":3.9,"s":0.236},{"sugu":"mehed","vanus":"65–79","t":5.87,"s":0.236},{"sugu":"mehed","vanus":"65–79","t":5.87,"s":0.203},{"sugu":"mehed","vanus":"65–79","t":7.66,"s":0.203},{"sugu":"mehed","vanus":"65–79","t":7.66,"s":0.153},{"sugu":"mehed","vanus":"65–79","t":9.4,"s":0.153},
{"sugu":"naised","vanus":"≥ 80","t":0,"s":0.88},{"sugu":"naised","vanus":"≥ 80","t":0.06,"s":0.31},{"sugu":"naised","vanus":"≥ 80","t":0.19,"s":0.294},{"sugu":"naised","vanus":"≥ 80","t":0.32,"s":0.27},{"sugu":"naised","vanus":"≥ 80","t":0.64,"s":0.26},{"sugu":"naised","vanus":"≥ 80","t":0.96,"s":0.228},{"sugu":"naised","vanus":"≥ 80","t":1.34,"s":0.175},{"sugu":"naised","vanus":"≥ 80","t":1.85,"s":0.158},{"sugu":"naised","vanus":"≥ 80","t":2.62,"s":0.142},{"sugu":"naised","vanus":"≥ 80","t":3.5,"s":0.12},{"sugu":"naised","vanus":"≥ 80","t":4.02,"s":0.1},{"sugu":"naised","vanus":"≥ 80","t":5.94,"s":0.1},{"sugu":"naised","vanus":"≥ 80","t":6.07,"s":0.079},{"sugu":"naised","vanus":"≥ 80","t":8.88,"s":0.079},
{"sugu":"mehed","vanus":"≥ 80","t":0,"s":0.88},{"sugu":"mehed","vanus":"≥ 80","t":0.04,"s":0.41},{"sugu":"mehed","vanus":"≥ 80","t":0.19,"s":0.343},{"sugu":"mehed","vanus":"≥ 80","t":0.32,"s":0.327},{"sugu":"mehed","vanus":"≥ 80","t":0.57,"s":0.294},{"sugu":"mehed","vanus":"≥ 80","t":0.83,"s":0.244},{"sugu":"mehed","vanus":"≥ 80","t":1.09,"s":0.21},{"sugu":"mehed","vanus":"≥ 80","t":1.6,"s":0.19},{"sugu":"mehed","vanus":"≥ 80","t":2.23,"s":0.153},{"sugu":"mehed","vanus":"≥ 80","t":2.87,"s":0.13},{"sugu":"mehed","vanus":"≥ 80","t":3.64,"s":0.112},{"sugu":"mehed","vanus":"≥ 80","t":4.02,"s":0.087},{"sugu":"mehed","vanus":"≥ 80","t":5.3,"s":0.087},{"sugu":"mehed","vanus":"≥ 80","t":5.36,"s":0.063},{"sugu":"mehed","vanus":"≥ 80","t":6.7,"s":0.063},{"sugu":"mehed","vanus":"≥ 80","t":6.9,"s":0.046},{"sugu":"mehed","vanus":"≥ 80","t":7.2,"s":0.035}
]
},
"spacing": 13,
"vconcat": [
{"spacing": 8, "hconcat": [
{"width": 282, "height": 202, "data": {"name": "EN"}, "title": {"text": "NSTEMI", "offset": 11},
 "encoding": {
  "y": {"field": "s", "type": "quantitative", "scale": {"domain": [0, 1], "nice": false}, "axis": {"values": [0, 0.2, 0.4, 0.6, 0.8, 1], "labelExpr": "replace(format(datum.value, '.1f'), '.', ',')", "labelPadding": 11, "title": "Elulemus", "titleFontSize": 21, "titlePadding": 8}},
  "color": {"field": "sugu", "type": "nominal", "scale": {"domain": ["naised", "mehed"], "range": ["#ec1c24", "#1f56a5"]}, "legend": {"orient": "none", "legendX": 4, "legendY": 531, "direction": "horizontal", "title": "Sugu:", "titleAnchor": "middle", "symbolType": "stroke", "symbolSize": 1444, "symbolStrokeWidth": 2, "labelOffset": 14, "columnPadding": 28, "titlePadding": -10}},
  "strokeDash": {"field": "vanus", "type": "nominal", "scale": {"domain": ["< 65", "65–79", "≥ 80"], "range": [[1, 0], [2, 4], [7, 5]]}, "legend": {"orient": "none", "legendX": 546, "legendY": 531, "direction": "horizontal", "title": "Vanus:", "titleAnchor": "middle", "symbolType": "stroke", "symbolSize": 1600, "symbolStrokeWidth": 2, "symbolStrokeColor": "#231f20", "labelOffset": 8, "columnPadding": 25, "titlePadding": -10}},
  "order": {"value": null}
 },
 "layer": [
  {"transform": [{"filter": "datum.sugu == 'naised'"}], "mark": {"type": "line", "strokeWidth": 2, "color": "#231f20"}, "encoding": {"x": {"field": "t", "type": "quantitative", "scale": {"domain": [-0.4, 10.4], "nice": false, "zero": false}, "axis": {"orient": "bottom", "values": [0, 2, 4, 6, 8, 10], "labels": false, "title": null}}}},
  {"transform": [{"filter": "datum.sugu == 'mehed'"}], "mark": {"type": "line", "strokeWidth": 2, "color": "#231f20"}, "encoding": {"x": {"field": "t", "type": "quantitative", "scale": {"domain": [-0.4, 10.4], "nice": false, "zero": false}, "axis": {"orient": "top", "labels": false, "ticks": false, "domain": false, "title": "Esmane ÄMI", "titleAnchor": "start", "titleAlign": "left", "titleFontSize": 20, "titlePadding": 6}}}}
 ]},
{"width": 282, "height": 202, "data": {"name": "ES"}, "title": {"text": "STEMI/LBBB", "offset": 39},
 "encoding": {
  "x": {"field": "t", "type": "quantitative", "scale": {"domain": [-0.4, 10.4], "nice": false, "zero": false}, "axis": {"orient": "bottom", "values": [0, 2, 4, 6, 8, 10], "labels": false, "title": null}},
  "y": {"field": "s", "type": "quantitative", "scale": {"domain": [0, 1], "nice": false}, "axis": {"values": [0, 0.2, 0.4, 0.6, 0.8, 1], "labels": false, "title": null}},
  "color": {"field": "sugu", "type": "nominal", "scale": {"domain": ["naised", "mehed"], "range": ["#ec1c24", "#1f56a5"]}, "legend": null},
  "strokeDash": {"field": "vanus", "type": "nominal", "scale": {"domain": ["< 65", "65–79", "≥ 80"], "range": [[1, 0], [2, 4], [7, 5]]}, "legend": null},
  "order": {"value": null}
 },
 "layer": [
  {"transform": [{"filter": "datum.sugu == 'naised'"}], "mark": {"type": "line", "strokeWidth": 2}},
  {"transform": [{"filter": "datum.sugu == 'mehed'"}], "mark": {"type": "line", "strokeWidth": 2}}
 ]},
{"width": 282, "height": 202, "data": {"name": "ET"}, "title": {"text": "Täpsustamata ÄMI", "offset": 39},
 "encoding": {
  "x": {"field": "t", "type": "quantitative", "scale": {"domain": [-0.4, 10.4], "nice": false, "zero": false}, "axis": {"orient": "bottom", "values": [0, 2, 4, 6, 8, 10], "labels": false, "title": null}},
  "y": {"field": "s", "type": "quantitative", "scale": {"domain": [0, 1], "nice": false}, "axis": {"values": [0, 0.2, 0.4, 0.6, 0.8, 1], "labels": false, "title": null}},
  "color": {"field": "sugu", "type": "nominal", "scale": {"domain": ["naised", "mehed"], "range": ["#ec1c24", "#1f56a5"]}, "legend": null},
  "strokeDash": {"field": "vanus", "type": "nominal", "scale": {"domain": ["< 65", "65–79", "≥ 80"], "range": [[1, 0], [2, 4], [7, 5]]}, "legend": null},
  "order": {"value": null}
 },
 "layer": [
  {"transform": [{"filter": "datum.sugu == 'naised'"}], "mark": {"type": "line", "strokeWidth": 2}},
  {"transform": [{"filter": "datum.sugu == 'mehed'"}], "mark": {"type": "line", "strokeWidth": 2}}
 ]}
]},
{"spacing": 8, "hconcat": [
{"width": 282, "height": 202, "data": {"name": "KN"},
 "encoding": {
  "y": {"field": "s", "type": "quantitative", "scale": {"domain": [0, 1], "nice": false}, "axis": {"values": [0, 0.2, 0.4, 0.6, 0.8, 1], "labelExpr": "replace(format(datum.value, '.1f'), '.', ',')", "labelPadding": 11, "title": "Elulemus", "titleFontSize": 21, "titlePadding": 8}},
  "color": {"field": "sugu", "type": "nominal", "scale": {"domain": ["naised", "mehed"], "range": ["#ec1c24", "#1f56a5"]}, "legend": null},
  "strokeDash": {"field": "vanus", "type": "nominal", "scale": {"domain": ["< 65", "65–79", "≥ 80"], "range": [[1, 0], [2, 4], [7, 5]]}, "legend": null},
  "order": {"value": null}
 },
 "layer": [
  {"transform": [{"filter": "datum.sugu == 'naised'"}], "mark": {"type": "line", "strokeWidth": 2}, "encoding": {"x": {"field": "t", "type": "quantitative", "scale": {"domain": [-0.4, 10.4], "nice": false, "zero": false}, "axis": {"orient": "bottom", "values": [0, 2, 4, 6, 8, 10], "labelFlush": false, "labelPadding": 19, "title": null}}}},
  {"transform": [{"filter": "datum.sugu == 'mehed'"}], "mark": {"type": "line", "strokeWidth": 2}, "encoding": {"x": {"field": "t", "type": "quantitative", "scale": {"domain": [-0.4, 10.4], "nice": false, "zero": false}, "axis": {"orient": "top", "labels": false, "ticks": false, "domain": false, "title": "Korduv ÄMI", "titleAnchor": "start", "titleAlign": "left", "titleFontSize": 20, "titlePadding": 6}}}}
 ]},
{"width": 282, "height": 202, "data": {"name": "KS"},
 "encoding": {
  "x": {"field": "t", "type": "quantitative", "scale": {"domain": [-0.4, 10.4], "nice": false, "zero": false}, "axis": {"orient": "bottom", "values": [0, 2, 4, 6, 8, 10], "labelFlush": false, "labelPadding": 19, "title": "Aastaid ÄMI–st", "titleFontSize": 21, "titlePadding": 6}},
  "y": {"field": "s", "type": "quantitative", "scale": {"domain": [0, 1], "nice": false}, "axis": {"values": [0, 0.2, 0.4, 0.6, 0.8, 1], "labels": false, "title": null}},
  "color": {"field": "sugu", "type": "nominal", "scale": {"domain": ["naised", "mehed"], "range": ["#ec1c24", "#1f56a5"]}, "legend": null},
  "strokeDash": {"field": "vanus", "type": "nominal", "scale": {"domain": ["< 65", "65–79", "≥ 80"], "range": [[1, 0], [2, 4], [7, 5]]}, "legend": null},
  "order": {"value": null}
 },
 "layer": [
  {"transform": [{"filter": "datum.sugu == 'naised'"}], "mark": {"type": "line", "strokeWidth": 2}},
  {"transform": [{"filter": "datum.sugu == 'mehed'"}], "mark": {"type": "line", "strokeWidth": 2}}
 ]},
{"width": 282, "height": 202, "data": {"name": "KT"},
 "encoding": {
  "x": {"field": "t", "type": "quantitative", "scale": {"domain": [-0.4, 10.4], "nice": false, "zero": false}, "axis": {"orient": "bottom", "values": [0, 2, 4, 6, 8, 10], "labelFlush": false, "labelPadding": 19, "title": null}},
  "y": {"field": "s", "type": "quantitative", "scale": {"domain": [0, 1], "nice": false}, "axis": {"values": [0, 0.2, 0.4, 0.6, 0.8, 1], "labels": false, "title": null}},
  "color": {"field": "sugu", "type": "nominal", "scale": {"domain": ["naised", "mehed"], "range": ["#ec1c24", "#1f56a5"]}, "legend": null},
  "strokeDash": {"field": "vanus", "type": "nominal", "scale": {"domain": ["< 65", "65–79", "≥ 80"], "range": [[1, 0], [2, 4], [7, 5]]}, "legend": null},
  "order": {"value": null}
 },
 "layer": [
  {"transform": [{"filter": "datum.sugu == 'naised'"}], "mark": {"type": "line", "strokeWidth": 2}},
  {"transform": [{"filter": "datum.sugu == 'mehed'"}], "mark": {"type": "line", "strokeWidth": 2}}
 ]}
]}
],
"config": {
 "font": "Roboto",
 "view": {"stroke": "#231f20", "strokeWidth": 2},
 "axis": {"domain": false, "grid": false, "tickColor": "#231f20", "tickWidth": 2, "tickSize": 12, "labelFont": "Roboto", "labelFontSize": 14, "labelFontWeight": "bold", "labelColor": "#231f20", "titleFont": "Roboto", "titleFontWeight": "bold", "titleColor": "#231f20"},
 "title": {"font": "Roboto", "fontSize": 21, "fontWeight": "bold", "color": "#231f20", "anchor": "middle", "frame": "group"},
 "legend": {"padding": 0, "labelFont": "Roboto", "labelFontSize": 19, "labelFontWeight": "bold", "labelColor": "#231f20", "titleFont": "Roboto", "titleFontSize": 19, "titleFontWeight": "bold", "titleColor": "#231f20"}
}
}
